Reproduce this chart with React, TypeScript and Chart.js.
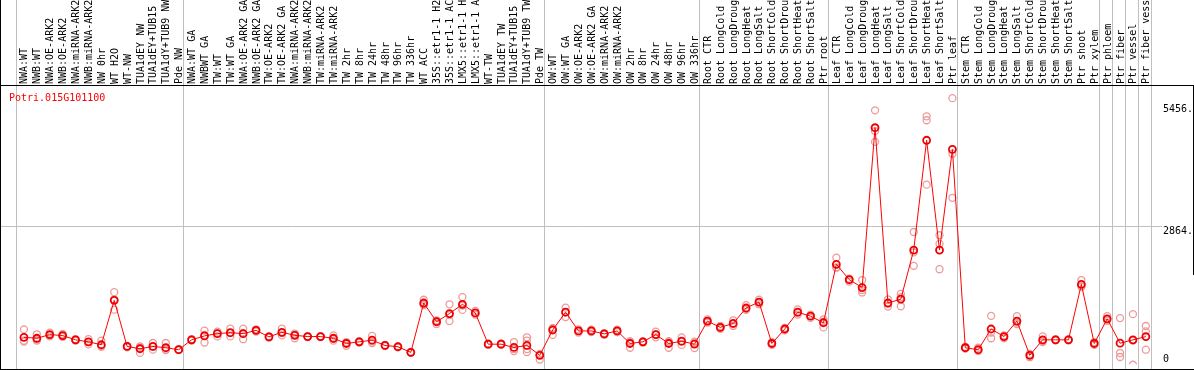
import React, { useEffect, useRef } from 'react';
import { Chart, registerables } from 'chart.js';

Chart.register(...registerables);

const TITLE = 'Potri.015G101100';

const categories = [
  'NWA:WT', 'NWB:WT', 'NWA:OE-ARK2', 'NWB:OE-ARK2', 'NWA:miRNA-ARK2', 'NWB:miRNA-ARK2', 'NW 0hr', 'WT H2O', 'WT-NW', 'TUA1dEY NW', 'TUA1dEY+TUB15 NW', 'TUA1dY+TUB9 NW', 'Pde NW',
  'NWA:WT GA', 'NWBWT GA', 'TW:WT', 'TW:WT GA', 'NWA:OE-ARK2 GA', 'NWB:OE-ARK2 GA', 'TW:OE-ARK2', 'TW:OE-ARK2 GA', 'NWA:miRNA-ARK2 GA', 'NWB:miRNA-ARK2 GA', 'TW:miRNA-ARK2', 'TW:miRNA-ARK2 GA', 'TW 2hr', 'TW 8hr', 'TW 24hr', 'TW 48hr', 'TW 96hr', 'TW 336hr', 'WT ACC', '35S::etr1-1 H2O', '35S::etr1-1 ACC', 'LMX5::etr1-1 H2O', 'LMX5::etr1-1 ACC', 'WT-TW', 'TUA1dEY TW', 'TUA1dEY+TUB15 TW', 'TUA1dY+TUB9 TW', 'Pde TW',
  'OW:WT', 'OW:WT GA', 'OW:OE-ARK2', 'OW:OE-ARK2 GA', 'OW:miRNA-ARK2', 'OW:miRNA-ARK2 GA', 'OW 2hr', 'OW 8hr', 'OW 24hr', 'OW 48hr', 'OW 96hr', 'OW 336hr',
  'Root CTR', 'Root LongCold', 'Root LongDrought', 'Root LongHeat', 'Root LongSalt', 'Root ShortCold', 'Root ShortDrought', 'Root ShortHeat', 'Root ShortSalt', 'Ptr root',
  'Leaf CTR', 'Leaf LongCold', 'Leaf LongDrought', 'Leaf LongHeat', 'Leaf LongSalt', 'Leaf ShortCold', 'Leaf ShortDrought', 'Leaf ShortHeat', 'Leaf ShortSalt', 'Ptr leaf',
  'Stem CTR', 'Stem LongCold', 'Stem LongDrought', 'Stem LongHeat', 'Stem LongSalt', 'Stem ShortCold', 'Stem ShortDrought', 'Stem ShortHeat', 'Stem ShortSalt', 'Ptr shoot', 'Ptr xylem',
  'Ptr phloem', 'Ptr fiber', 'Ptr vessel', 'Ptr fiber vessel',
];

const means = [
  521, 500, 578, 557, 467, 425, 363, 1301, 327, 279, 327, 300, 258,
  467, 550, 598, 619, 598, 667, 530, 626, 563, 536, 536, 500, 390, 425, 459, 348, 321, 202, 1245, 849, 1022, 1218, 1036, 375, 375, 306, 348, 140,
  675, 1051, 655, 655, 592, 655, 390, 425, 578, 390, 438, 375,
  863, 730, 813, 1140, 1266, 390, 696, 1051, 967, 828,
  2064, 1739, 1572, 4950, 1245, 1328, 2364, 4685, 2364, 4491,
  300, 258, 696, 536, 863, 140, 467, 467, 467, 1641, 390,
  911, 396, 467, 536,
];

const rep1 = [
  688, 584, 620, 590, 480, 480, 450, 1474, 340, 330, 400, 400, 270,
  480, 661, 640, 703, 703, 690, 545, 703, 600, 545, 545, 560, 400, 440, 550, 360, 330, 210, 1314, 880, 1218, 1370, 1080, 390, 390, 420, 521, 50,
  571, 1147, 690, 680, 610, 680, 300, 440, 640, 300, 520, 292,
  900, 760, 880, 1200, 1314, 420, 720, 1110, 1000, 900,
  2204, 1760, 1731, 5317, 1320, 1439, 2746, 5192, 2677, 5575,
  320, 300, 974, 560, 967, 170, 540, 480, 480, 1731, 420,
  967, 926, 1009, 759,
];

const rep2 = [
  432, 470, 540, 530, 450, 370, 320, 1105, 310, 190, 260, 250, 250,
  450, 411, 540, 540, 480, 640, 515, 560, 500, 525, 525, 450, 340, 410, 400, 335, 310, 190, 1200, 800, 863, 1100, 1000, 360, 360, 230, 452, 170,
  700, 950, 620, 630, 575, 630, 420, 410, 520, 420, 360, 430,
  830, 700, 760, 1100, 1220, 360, 670, 1000, 930, 730,
  1990, 1700, 1468, 4650, 1170, 1176, 2031, 5108, 2496, 4400,
  280, 230, 500, 500, 800, 100, 440, 455, 455, 1600, 360,
  870, 188, -60, 646,
];

const rep3 = [
  450, 450, 560, 540, 470, 420, 340, 1320, 330, 300, 320, 260, 255,
  470, 570, 610, 610, 610, 670, 530, 610, 580, 536, 536, 490, 420, 425, 430, 350, 320, 205, 1220, 860, 990, 1190, 1030, 375, 375, 270, 271, 150,
  720, 1050, 650, 660, 590, 655, 440, 425, 580, 440, 430, 400,
  860, 730, 800, 1120, 1260, 390, 700, 1040, 970, 850,
  2000, 1750, 1520, 4880, 1240, 1370, 2315, 3747, 1960, 3469,
  300, 250, 620, 540, 830, 150, 420, 467, 467, 1590, 390,
  900, 104, 452, 258,
];

const rep4: (number | null)[] = categories.map((c) => (c === 'TUA1dY+TUB9 TW' ? 209 : null));

// index of the last category in each group (separators drawn after them)
const groupEnds = [-1, 12, 40, 52, 62, 72, 83, 84, 85, 86, 87];

const yTicks = [0, 2864, 5456];
const yTickLabels = ['0', '2864.', '5456.'];
const yGridValues = [2864];

const W = 1194;
const H = 370;
const FONT = '10px "DejaVu Sans Mono", monospace';

export default function App() {
  const ref = useRef<HTMLCanvasElement>(null);

  useEffect(() => {
    const canvas = ref.current;
    if (!canvas) return;

    const overlay = {
      id: 'overlay',
      beforeDatasetsDraw(chart: any) {
        const ctx = chart.ctx as CanvasRenderingContext2D;
        const xs = chart.scales.x;
        const ys = chart.scales.y;
        ctx.save();
        ctx.strokeStyle = '#c0c0c0';
        ctx.lineWidth = 1;
        for (const g of groupEnds) {
          const px = Math.floor(xs.getPixelForValue(g + 0.4)) + 0.5;
          ctx.beginPath();
          ctx.moveTo(px, 0);
          ctx.lineTo(px, H);
          ctx.stroke();
        }
        for (const v of yGridValues) {
          const py = Math.floor(ys.getPixelForValue(v)) + 0.5;
          ctx.beginPath();
          ctx.moveTo(1, py);
          ctx.lineTo(1162, py);
          ctx.stroke();
        }
        ctx.restore();
      },
      afterDraw(chart: any) {
        const ctx = chart.ctx as CanvasRenderingContext2D;
        const xs = chart.scales.x;
        const ys = chart.scales.y;
        const area = chart.chartArea;
        ctx.save();
        // borders
        ctx.fillStyle = '#000000';
        ctx.fillRect(0, 85, W, 1);
        ctx.fillRect(0, H - 1, W, 1);
        ctx.fillRect(0, 0, 1, H);
        ctx.fillRect(W - 1, 85, 1, 190);

        // category labels (rotated)
        ctx.font = FONT;
        ctx.fillStyle = '#000000';
        ctx.textAlign = 'left';
        ctx.textBaseline = 'alphabetic';
        categories.forEach((label, i) => {
          const px = xs.getPixelForValue(i);
          ctx.save();
          ctx.translate(Math.round(px + 3.5), 84);
          ctx.rotate(-Math.PI / 2);
          ctx.fillText(label, 0, 0);
          ctx.restore();
        });

        // title
        ctx.fillStyle = '#ff0000';
        ctx.fillText(TITLE, 9, 101);

        // y tick labels
        ctx.fillStyle = '#000000';
        yTicks.forEach((v, i) => {
          const py = ys.getPixelForValue(v);
          const base = Math.min(Math.round(py) + 8, area.bottom - 2);
          ctx.fillText(yTickLabels[i], 1163, base);
        });
        ctx.restore();
      },
    };

    const repStyle = {
      showLine: false,
      pointRadius: 3.5,
      pointBorderWidth: 1.3,
      pointBorderColor: '#ee9a9a',
      pointBackgroundColor: 'rgba(0,0,0,0)',
      borderColor: '#ee9a9a',
      order: 1,
    };
    const toPts = (arr: (number | null)[]) =>
      arr.map((v, i) => (v == null ? null : { x: i, y: v })).filter((p) => p !== null);

    const chart = new Chart(canvas, {
      type: 'line',
      data: {
        datasets: [
          {
            label: 'mean',
            data: means.map((v, i) => ({ x: i, y: v })),
            borderColor: '#ff0000',
            borderWidth: 1,
            pointRadius: 3.5,
            pointBorderWidth: 1.8,
            pointBorderColor: '#ee0000',
            pointBackgroundColor: 'rgba(0,0,0,0)',
            tension: 0,
            order: 0,
          },
          { label: 'rep1', data: toPts(rep1), ...repStyle },
          { label: 'rep2', data: toPts(rep2), ...repStyle },
          { label: 'rep3', data: toPts(rep3), ...repStyle },
          { label: 'rep4', data: toPts(rep4), ...repStyle },
        ] as any,
      },
      options: {
        animation: false,
        responsive: false,
        events: [],
        layout: { padding: { top: 86, left: 1, right: 1, bottom: 2 } },
        plugins: { legend: { display: false }, tooltip: { enabled: false } },
        scales: {
          x: { type: 'linear', display: false, min: -1.4077, max: 90.2846 },
          y: { type: 'linear', display: false, min: -48, max: 5832 },
        },
      },
      plugins: [overlay],
    });

    return () => chart.destroy();
  }, []);

  return (
    <div style={{ position: 'fixed', left: 0, top: 0, width: W, height: H, background: '#ffffff' }}>
      <canvas ref={ref} width={W} height={H} style={{ display: 'block', width: W, height: H }} />
    </div>
  );
}
